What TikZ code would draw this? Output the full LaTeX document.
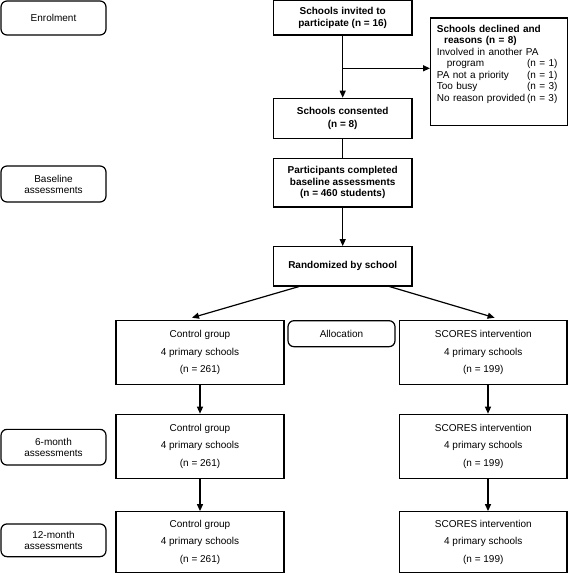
\documentclass[tikz,border=0pt]{standalone}
\usepackage{fontspec}
\setmainfont{Liberation Sans}
\usetikzlibrary{arrows.meta,calc}
\tikzset{
  sq/.style={draw, line width=1.2pt, inner sep=0pt, align=center, font=\fontsize{10}{12.5}\selectfont},
  bsq/.style={sq, font=\fontsize{10}{12.5}\selectfont\bfseries},
  grp/.style={sq, minimum width=168pt, font=\fontsize{10}{17.5}\selectfont},
  lbl/.style={draw, line width=1.2pt, rounded corners=6pt, inner sep=0pt, align=center, minimum width=105pt, font=\fontsize{10}{11}\selectfont},
  arr/.style={line width=1.2pt, -{Triangle[length=7pt,width=6pt]}},
  ln/.style={line width=1.2pt}
}
\begin{document}
\begin{tikzpicture}[x=1pt,y=-1pt]
\useasboundingbox (0,0) rectangle (568,573);
% left labels
\node[lbl, minimum height=34pt] (enrol) at (53.5,18) {Enrolment};
\node[lbl, minimum height=36pt] (base) at (53.5,184) {Baseline\\assessments};
\node[lbl, minimum height=35.7pt] (six) at (53.5,447.2) {6-month\\assessments};
\node[lbl, minimum height=32.7pt] (twelve) at (53.5,540.3) {12-month\\assessments};
% main column
\node[bsq, minimum width=138.5pt, minimum height=34.3pt] (invited) at (342.7,17.9) {Schools invited to\\participate (n = 16)};
\node[sq, minimum width=137pt, minimum height=107.7pt, anchor=north west] (declined) at (430,17.3) {};
\node[anchor=north west, inner sep=0pt, text width=120.5pt, align=left, font=\fontsize{10}{11.5}\selectfont] (declinedtext) at (436.7,24.8) {%
\textbf{Schools declined and}\\
\hspace*{7.3pt}\textbf{reasons (n = 8)}\\
Involved in another PA\\
\hspace*{10pt}program\hfill(n = 1)\\
PA not a priority\hfill(n = 1)\\
Too busy\hfill(n = 3)\\
No reason provided\hfill(n = 3)};
\node[bsq, minimum width=138.5pt, minimum height=40pt] (consented) at (342.7,118.3) {Schools consented\\(n = 8)};
\node[bsq, minimum width=138.5pt, minimum height=48.7pt, font=\fontsize{10}{11.5}\selectfont\bfseries] (part) at (342.7,182.7) {Participants completed\\baseline assessments\\(n = 460 students)};
\node[bsq, minimum width=138.5pt, minimum height=39.3pt] (rand) at (342.7,266.3) {Randomized by school};
% groups
\node[grp, minimum height=63.8pt] (c1) at (200,352.6) {Control group\\4 primary schools\\(n = 261)};
\node[lbl, minimum width=107pt, minimum height=26pt] (alloc) at (341.5,333.7) {Allocation};
\node[grp, minimum width=167.4pt, minimum height=63.8pt] (s1) at (483.3,352.6) {SCORES intervention\\4 primary schools\\(n = 199)};
\node[grp, minimum height=64.2pt] (c2) at (200,446.4) {Control group\\4 primary schools\\(n = 261)};
\node[grp, minimum width=167.4pt, minimum height=64.2pt] (s2) at (483.3,446.4) {SCORES intervention\\4 primary schools\\(n = 199)};
\node[grp, minimum height=60.8pt] (c3) at (200,542.1) {Control group\\4 primary schools\\(n = 261)};
\node[grp, minimum width=167.4pt, minimum height=60.8pt] (s3) at (483.3,542.1) {SCORES intervention\\4 primary schools\\(n = 199)};
% connectors
\draw[arr] (invited.south) -- (consented.north);
\coordinate (branch) at (342.7,68.3);
\draw[arr] (branch) -- (branch -| declined.west);
\draw[ln] (consented.south) -- (part.north);
\draw[arr] (part.south) -- (rand.north);
\draw[arr] ([xshift=-43.7pt]rand.south) -- ([xshift=-8pt,yshift=2.4pt]c1.north);
\draw[arr] ([xshift=46.8pt]rand.south) -- ([xshift=11.3pt,yshift=2.4pt]s1.north);
\draw[arr] (c1.south) -- (c2.north);
\draw[arr] (c2.south) -- (c3.north);
\draw[arr] ([xshift=4.7pt]s1.south) -- ([xshift=4.7pt]s2.north);
\draw[arr] ([xshift=4.7pt]s2.south) -- ([xshift=4.7pt]s3.north);
\end{tikzpicture}
\end{document}
